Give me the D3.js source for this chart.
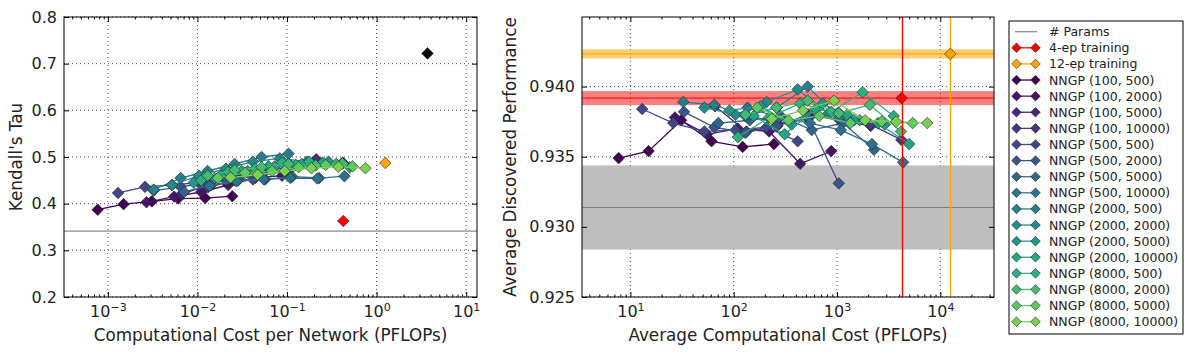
<!DOCTYPE html>
<html>
<head>
<meta charset="utf-8">
<script src="https://cdn.jsdelivr.net/npm/d3@7"></script>
<style>
  body { margin: 0; background: #fff; }
  svg { font-family: "DejaVu Sans", sans-serif; }
</style>
</head>
<body>
<div id="chart"></div>
<script>
// series names, (a, b) settings of the NNGP
const seriesNames = [
  "NNGP (100, 500)", "NNGP (100, 2000)", "NNGP (100, 5000)", "NNGP (100, 10000)",
  "NNGP (500, 500)", "NNGP (500, 2000)", "NNGP (500, 5000)", "NNGP (500, 10000)",
  "NNGP (2000, 500)", "NNGP (2000, 2000)", "NNGP (2000, 5000)", "NNGP (2000, 10000)",
  "NNGP (8000, 500)", "NNGP (8000, 2000)", "NNGP (8000, 5000)", "NNGP (8000, 10000)"
]

// left panel: cost per network (PFLOPs) vs Kendall's tau
const costPerNet = [
  [7.7e-4, 1.5e-3, 3.1e-3, 6.1e-3, 1.22e-2, 2.45e-2],
  [2.7e-3, 5.5e-3, 1.1e-2, 2.2e-2, 4.4e-2, 8.8e-2],
  [6.6e-3, 1.33e-2, 2.65e-2, 5.3e-2, 0.106, 0.212],
  [1.31e-2, 2.62e-2, 5.2e-2, 0.105, 0.21, 0.42],
  [1.3e-3, 2.6e-3, 5.2e-3, 1.04e-2, 2.08e-2, 4.16e-2],
  [3.25e-3, 6.5e-3, 1.3e-2, 2.6e-2, 5.2e-2, 0.104],
  [7.1e-3, 1.43e-2, 2.85e-2, 5.7e-2, 0.114, 0.228],
  [1.36e-2, 2.73e-2, 5.5e-2, 0.109, 0.218, 0.437],
  [3.25e-3, 6.5e-3, 1.3e-2, 2.6e-2, 5.2e-2, 0.104],
  [5.2e-3, 1.04e-2, 2.08e-2, 4.16e-2, 8.3e-2, 0.166],
  [9.1e-3, 1.82e-2, 3.64e-2, 7.3e-2, 0.146, 0.29],
  [1.56e-2, 3.1e-2, 6.2e-2, 0.125, 0.25, 0.5],
  [1.1e-2, 2.2e-2, 4.4e-2, 8.8e-2, 0.177, 0.354],
  [1.3e-2, 2.6e-2, 5.2e-2, 0.104, 0.208, 0.416],
  [1.69e-2, 3.4e-2, 6.8e-2, 0.135, 0.27, 0.54],
  [2.34e-2, 4.7e-2, 9.4e-2, 0.187, 0.375, 0.75]
]
const kendallTau = [
  [0.387, 0.399, 0.405, 0.411, 0.412, 0.416],
  [0.403, 0.415, 0.425, 0.44, 0.455, 0.46],
  [0.42, 0.44, 0.46, 0.47, 0.485, 0.495],
  [0.435, 0.45, 0.465, 0.48, 0.493, 0.488],
  [0.423, 0.436, 0.44, 0.445, 0.45, 0.452],
  [0.428, 0.436, 0.445, 0.455, 0.462, 0.47],
  [0.425, 0.44, 0.45, 0.452, 0.458, 0.455],
  [0.438, 0.448, 0.452, 0.455, 0.454, 0.459],
  [0.43, 0.455, 0.47, 0.485, 0.5, 0.507],
  [0.44, 0.46, 0.475, 0.49, 0.497, 0.49],
  [0.445, 0.46, 0.47, 0.48, 0.485, 0.49],
  [0.455, 0.47, 0.48, 0.483, 0.488, 0.478],
  [0.45, 0.468, 0.475, 0.488, 0.49, 0.485],
  [0.46, 0.472, 0.478, 0.485, 0.482, 0.486],
  [0.455, 0.466, 0.47, 0.478, 0.483, 0.48],
  [0.456, 0.462, 0.47, 0.476, 0.479, 0.476]
]

// right panel: average cost (PFLOPs) vs discovered performance
const avgCost = [
  [7.7, 15, 31, 61, 122, 245],
  [27, 55, 110, 220, 440, 880],
  [66, 133, 265, 530, 1060, 2120],
  [131, 262, 524, 1050, 2100, 4200],
  [13, 26, 52, 104, 208, 416],
  [33, 65, 130, 260, 520, 1040],
  [71, 143, 285, 570, 1140, 2280],
  [136, 273, 546, 1090, 2180, 4370],
  [32.5, 65, 130, 260, 520, 1040],
  [52, 104, 208, 416, 830, 1660],
  [91, 182, 364, 730, 1460, 2900],
  [156, 312, 624, 1250, 2500, 5000],
  [110, 220, 440, 880, 1770, 3540],
  [130, 260, 520, 1040, 2080, 4160],
  [169, 338, 676, 1350, 2700, 5400],
  [234, 468, 936, 1870, 3740, 7480]
]
const avgPerf = [
  [0.9349, 0.9354, 0.9376, 0.9361, 0.9357, 0.9359],
  [0.9378, 0.9366, 0.9370, 0.9368, 0.9345, 0.9354],
  [0.9386, 0.9368, 0.9372, 0.9380, 0.9376, 0.9372],
  [0.9380, 0.9374, 0.9377, 0.9381, 0.9373, 0.9362],
  [0.9384, 0.9374, 0.9368, 0.9369, 0.9371, 0.9361],
  [0.9382, 0.9371, 0.9367, 0.9372, 0.9378, 0.9331],
  [0.9374, 0.9376, 0.9379, 0.9369, 0.9374, 0.9355],
  [0.9385, 0.9378, 0.9374, 0.9369, 0.9359, 0.9346],
  [0.9389, 0.9387, 0.9379, 0.9385, 0.9400, 0.9378],
  [0.9385, 0.9380, 0.9389, 0.9398, 0.9381, 0.9376],
  [0.9383, 0.9386, 0.9373, 0.9388, 0.9376, 0.9373],
  [0.9379, 0.9366, 0.9384, 0.9380, 0.9374, 0.9359],
  [0.9364, 0.9378, 0.9388, 0.9382, 0.9396, 0.9379],
  [0.9380, 0.9385, 0.9390, 0.9381, 0.9387, 0.9368],
  [0.9385, 0.9376, 0.9379, 0.9374, 0.9375, 0.9374],
  [0.9377, 0.9383, 0.9390, 0.9376, 0.9375, 0.9374]
]

// reference training runs
const paramsTau = 0.341
const ep4 = {costNet: 0.425, tau: 0.363, cost: 4220, perf: 0.93918, err: 0.0005}
const ep12 = {costNet: 1.25, tau: 0.487, cost: 12500, perf: 0.94233, err: 0.00033}
const fullRun = {costNet: 3.7, tau: 0.722}
const paramsPerf = {mean: 0.93138, err: 0.003}

const colors = seriesNames.map((d, i) => d3.interpolateViridis(i / 15 * 0.8))

const W = 1193, H = 356
const svg = d3.select("#chart").append("svg").attr("width", W).attr("height", H)

const diamond = r => `M0,${-r}L${r},0L0,${r}L${-r},0Z`

function logTicks(domain) {
  const lo = Math.floor(Math.log10(domain[0])), hi = Math.ceil(Math.log10(domain[1]))
  const major = [], minor = []
  for (let k = lo; k <= hi; k++) {
    const v = Math.pow(10, k)
    if (v >= domain[0] && v <= domain[1]) major.push(v)
    for (let m = 2; m <= 9; m++) {
      const u = m * v
      if (u >= domain[0] && u <= domain[1]) minor.push(u)
    }
  }
  return {major, minor}
}

function drawPanel(p) {
  const g = svg.append("g")
  const x = d3.scaleLog().domain(p.xDomain).range([p.left, p.right])
  const y = d3.scaleLinear().domain(p.yDomain).range([p.bottom, p.top])
  const t = logTicks(p.xDomain)

  // grid
  g.append("g").selectAll("line").data(t.major).join("line")
    .attr("x1", d => x(d)).attr("x2", d => x(d)).attr("y1", p.top).attr("y2", p.bottom)
    .attr("stroke", "#000").attr("stroke-width", 0.7).attr("stroke-dasharray", "1,3")
  g.append("g").selectAll("line").data(p.yTicks).join("line")
    .attr("x1", p.left).attr("x2", p.right).attr("y1", d => y(d)).attr("y2", d => y(d))
    .attr("stroke", "#000").attr("stroke-width", 0.7).attr("stroke-dasharray", "1,3")

  p.under && p.under(g, x, y)

  const clip = "clip" + p.left
  svg.append("clipPath").attr("id", clip).append("rect")
    .attr("x", p.left).attr("y", p.top).attr("width", p.right - p.left).attr("height", p.bottom - p.top)
  const plot = g.append("g").attr("clip-path", `url(#${clip})`)

  const line = d3.line().x(d => x(d[0])).y(d => y(d[1]))
  p.xs.forEach((xs, i) => {
    const pts = xs.map((v, j) => [v, p.ys[i][j]])
    plot.append("path").datum(pts).attr("d", line)
      .attr("fill", "none").attr("stroke", colors[i]).attr("stroke-width", 1.3)
    plot.selectAll(null).data(pts).join("path")
      .attr("d", diamond(5.8))
      .attr("transform", d => `translate(${x(d[0])},${y(d[1])})`)
      .attr("fill", colors[i]).attr("stroke", "#222").attr("stroke-width", 0.6)
  })

  p.over && p.over(plot, x, y)

  // axes, ticks pointing inward on all four sides
  const fmtExp = function (d) {
    const e = Math.round(Math.log10(d))
    const txt = d3.select(this)
    txt.text("")
    txt.append("tspan").text("10")
    txt.append("tspan").attr("dy", "-0.55em").attr("font-size", "11px").text(String(e).replace("-", "\u2212"))
  }
  const axB = g.append("g").attr("transform", `translate(0,${p.bottom})`)
    .call(d3.axisBottom(x).tickValues(t.major).tickSize(-5).tickPadding(9).tickFormat(() => ""))
  axB.selectAll(".tick text").each(fmtExp)
  g.append("g").attr("transform", `translate(0,${p.bottom})`)
    .call(d3.axisBottom(x).tickValues(t.minor).tickSize(-2.5).tickFormat(() => ""))
  g.append("g").attr("transform", `translate(0,${p.top})`)
    .call(d3.axisTop(x).tickValues(t.major).tickSize(-5).tickFormat(() => ""))
  g.append("g").attr("transform", `translate(0,${p.top})`)
    .call(d3.axisTop(x).tickValues(t.minor).tickSize(-2.5).tickFormat(() => ""))
  g.append("g").attr("transform", `translate(${p.left},0)`)
    .call(d3.axisLeft(y).tickValues(p.yTicks).tickSize(-5).tickPadding(7).tickFormat(d3.format(p.yFmt)))
  g.append("g").attr("transform", `translate(${p.right},0)`)
    .call(d3.axisRight(y).tickValues(p.yTicks).tickSize(-5).tickFormat(() => ""))
  g.selectAll(".domain").remove()
  g.selectAll(".tick line").attr("stroke", "#000")
  g.selectAll(".tick text").attr("font-size", 16).attr("fill", "#222")
    .attr("font-family", "DejaVu Sans, sans-serif")

  g.append("rect").attr("x", p.left).attr("y", p.top)
    .attr("width", p.right - p.left).attr("height", p.bottom - p.top)
    .attr("fill", "none").attr("stroke", "#000").attr("stroke-width", 1)

  g.append("text").attr("x", (p.left + p.right) / 2).attr("y", 341)
    .attr("text-anchor", "middle").attr("font-size", 16.8).attr("fill", "#222").text(p.xLabel)
  g.append("text").attr("transform", `translate(${p.yLabelX},${(p.top + p.bottom) / 2}) rotate(-90)`)
    .attr("text-anchor", "middle").attr("font-size", 16.8).attr("fill", "#222").text(p.yLabel)
}

// left panel
drawPanel({
  left: 64, right: 477, top: 17, bottom: 297,
  xDomain: [3.24e-4, 13.2], yDomain: [0.2, 0.8],
  yTicks: [0.2, 0.3, 0.4, 0.5, 0.6, 0.7, 0.8], yFmt: ".1f",
  xs: costPerNet, ys: kendallTau,
  xLabel: "Computational Cost per Network (PFLOPs)", yLabel: "Kendall's Tau", yLabelX: 22,
  under: (g, x, y) => {
    g.append("line").attr("x1", 64).attr("x2", 477).attr("y1", y(paramsTau)).attr("y2", y(paramsTau))
      .attr("stroke", "#8c8c8c").attr("stroke-width", 1.2)
  },
  over: (g, x, y) => {
    [[ep4.costNet, ep4.tau, "#ff0000"], [ep12.costNet, ep12.tau, "#ffa500"], [fullRun.costNet, fullRun.tau, "#000"]]
      .forEach(d => {
        g.append("path").attr("d", diamond(5.8))
          .attr("transform", `translate(${x(d[0])},${y(d[1])})`)
          .attr("fill", d[2]).attr("stroke", "#222").attr("stroke-width", 0.6)
      })
  }
})

// right panel
drawPanel({
  left: 582, right: 994, top: 17, bottom: 297,
  xDomain: [3.4, 33100], yDomain: [0.925, 0.94496],
  yTicks: [0.925, 0.930, 0.935, 0.940], yFmt: ".3f",
  xs: avgCost, ys: avgPerf,
  xLabel: "Average Computational Cost (PFLOPs)", yLabel: "Average Discovered Performance", yLabelX: 516,
  under: (g, x, y) => {
    const bands = [
      [paramsPerf.mean, paramsPerf.err, "#bebebe", "#7f7f7f", 1],
      [ep4.perf, ep4.err, "rgba(255,0,0,0.5)", "#ff0000", 1],
      [ep12.perf, ep12.err, "rgba(255,165,0,0.55)", "#ffa500", 1]
    ]
    bands.forEach(b => {
      g.append("rect").attr("x", 582).attr("width", 994 - 582)
        .attr("y", y(b[0] + b[1])).attr("height", y(b[0] - b[1]) - y(b[0] + b[1])).attr("fill", b[2])
      g.append("line").attr("x1", 582).attr("x2", 994).attr("y1", y(b[0])).attr("y2", y(b[0]))
        .attr("stroke", b[3]).attr("stroke-width", b[4])
    })
  },
  over: (g, x, y) => {
    [[ep4.cost, ep4.perf, "#ff0000"], [ep12.cost, ep12.perf, "#ffa500"]].forEach(d => {
      g.append("line").attr("x1", Math.round(x(d[0])) + 0.5).attr("x2", Math.round(x(d[0])) + 0.5)
        .attr("y1", 17).attr("y2", 297)
        .attr("stroke", d[2]).attr("stroke-width", 1.4)
      g.append("path").attr("d", diamond(5.8))
        .attr("transform", `translate(${x(d[0])},${y(d[1])})`)
        .attr("fill", d[2]).attr("stroke", "#222").attr("stroke-width", 0.6)
    })
  }
})

// legend
const legendItems = [
  {name: "# Params", color: "#8c8c8c", marker: false},
  {name: "4-ep training", color: "#ff0000", marker: true},
  {name: "12-ep training", color: "#ffa500", marker: true}
].concat(seriesNames.map((n, i) => ({name: n, color: colors[i], marker: true})))

const lg = svg.append("g")
lg.append("rect").attr("x", 1009).attr("y", 21).attr("width", 174).attr("height", 313)
  .attr("fill", "#fff").attr("stroke", "#000").attr("stroke-width", 1)
const rowY = d3.scalePoint().domain(legendItems.map(d => d.name)).range([31.7, 321.7])
legendItems.forEach(d => {
  const yy = rowY(d.name)
  const row = lg.append("g").attr("transform", `translate(0,${yy})`)
  row.append("line").attr("x1", 1015).attr("x2", 1037).attr("stroke", d.color).attr("stroke-width", 1.3)
  if (d.marker) {
    [1016.5, 1035.5].forEach(mx => {
      row.append("path").attr("d", diamond(4.8)).attr("transform", `translate(${mx},0)`)
        .attr("fill", d.color).attr("stroke", "#222").attr("stroke-width", 0.6)
    })
  }
  row.append("text").attr("x", 1049).attr("y", 0).attr("dy", "0.36em")
    .attr("font-size", 12.5).attr("fill", "#222").text(d.name)
})
</script>
</body>
</html>
